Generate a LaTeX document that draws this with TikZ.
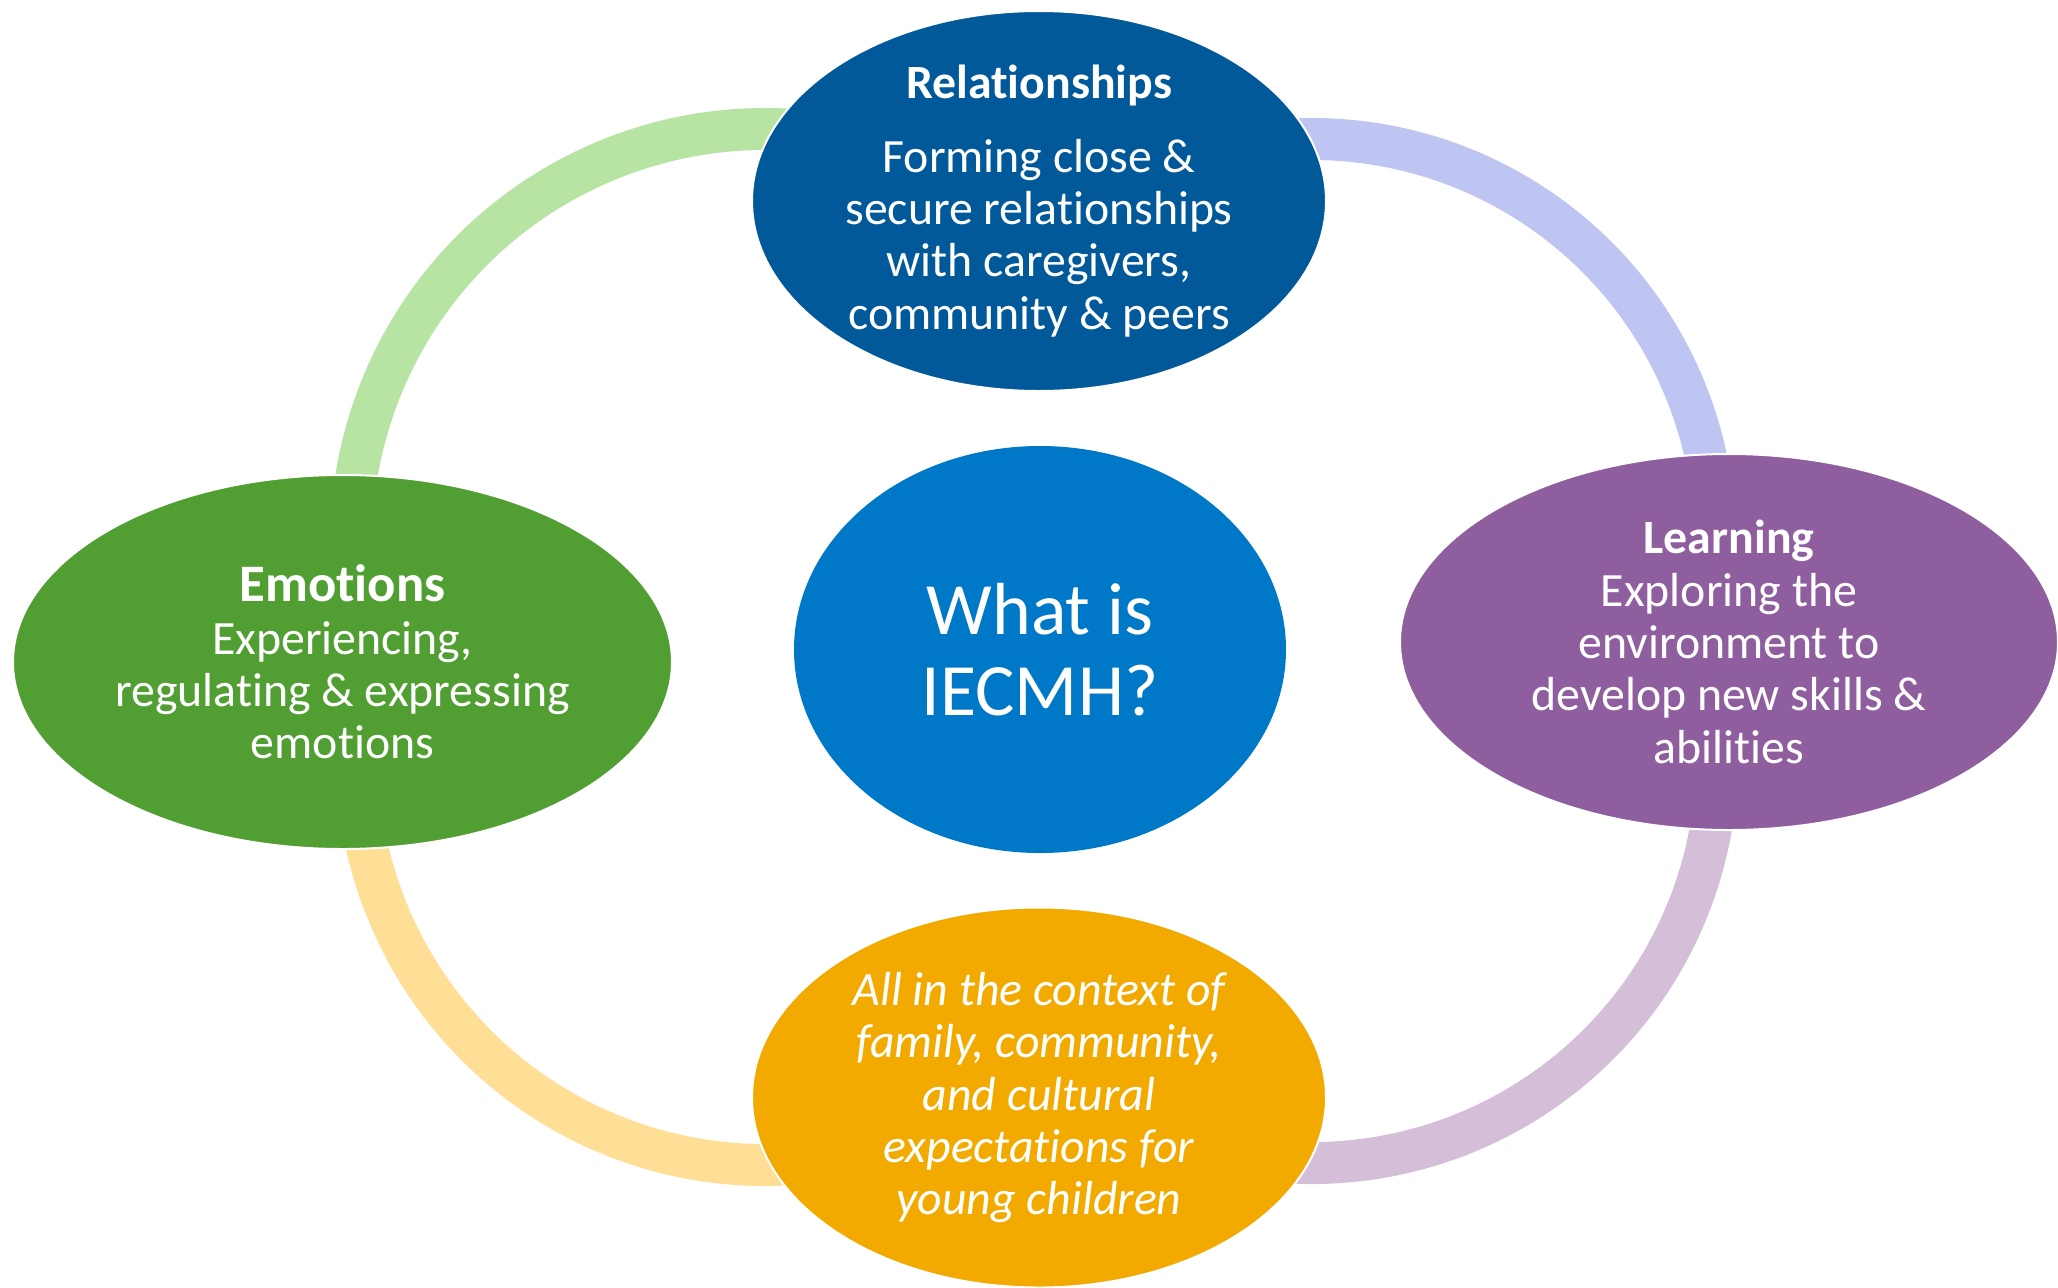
\documentclass[tikz,border=0pt]{standalone}
\usepackage{fontspec}
\setmainfont{Carlito}[Ligatures=CommonOff]
\usetikzlibrary{shapes.geometric}

\definecolor{relblue}{HTML}{01599A}
\definecolor{coreblue}{HTML}{0078C8}
\definecolor{emogreen}{HTML}{519E32}
\definecolor{learnpurple}{HTML}{8F5E9E}
\definecolor{ctxorange}{HTML}{F2AA00}
\definecolor{ringgreen}{HTML}{B7E4A2}
\definecolor{ringblue}{HTML}{BEC5F2}
\definecolor{ringlilac}{HTML}{D4BED8}
\definecolor{ringyellow}{HTML}{FFDF96}

\begin{document}
\begin{tikzpicture}[
    bubble/.style={
      ellipse,
      draw=white,
      line width=0.2mm,
      inner sep=0pt
    },
    blurb/.style={
      align=center,
      text=white,
      inner sep=0pt,
      font=\fontsize{13.6}{14.9}\selectfont
    },
    ringpart/.style={line width=4.2mm}
  ]
  \useasboundingbox (0,0) rectangle (20.58,-12.87);

  % the four arcs behind the bubbles
  \foreach \cx/\cy/\r/\from/\to/\col in {13.12/-5.42/4.03/100/4/ringblue,
      7.65/-5.43/4.14/80/176/ringgreen, 7.65/-7.57/4.08/184/280/ringyellow,
      13.12/-7.58/4.05/-100/-4/ringlilac}
    \draw[ringpart,\col] (\cx,\cy) ++(\from:\r) arc[start angle=\from, end angle=\to, radius=\r];

  \node (rel) at (10.39,-2.01) [bubble,fill=relblue,minimum width=5.74cm,minimum height=3.80cm]{};
  \node (emo) at (3.425,-6.62) [bubble,fill=emogreen,minimum width=6.59cm,minimum height=3.74cm]{};
  \node (learn) at (17.29,-6.42) [bubble,fill=learnpurple,minimum width=6.58cm,minimum height=3.76cm]{};
  \node (ctx) at (10.39,-10.975) [bubble,fill=ctxorange,minimum width=5.74cm,minimum height=3.80cm]{};
  \node (core) at (10.40,-6.495) [bubble,draw=none,fill=coreblue,minimum width=4.92cm,minimum height=4.07cm]{};

  \node (rel-txt) at (rel) [blurb]{\textbf{Relationships}\\[6pt]
    Forming close \&\\ secure relationships\\ with caregivers,\\ community \& peers};
  \node (emo-txt) at (emo) [blurb]{{\fontsize{15}{17}\selectfont\bfseries Emotions}\\
    Experiencing,\\ regulating \& expressing\\ emotions};
  \node (learn-txt) at (learn) [blurb]{\textbf{Learning}\\ Exploring the\\
    environment to\\ develop new skills \&\\ abilities};
  \node (ctx-txt) at (ctx) [blurb,font=\fontsize{13.6}{14.9}\selectfont\itshape]{All in the context of\\
    family, community,\\ and cultural\\ expectations for\\ young children};
  \node (core-txt) at (core) [blurb,font=\fontsize{21}{22.9}\selectfont]{What is\\ IECMH?};

\end{tikzpicture}
\end{document}
